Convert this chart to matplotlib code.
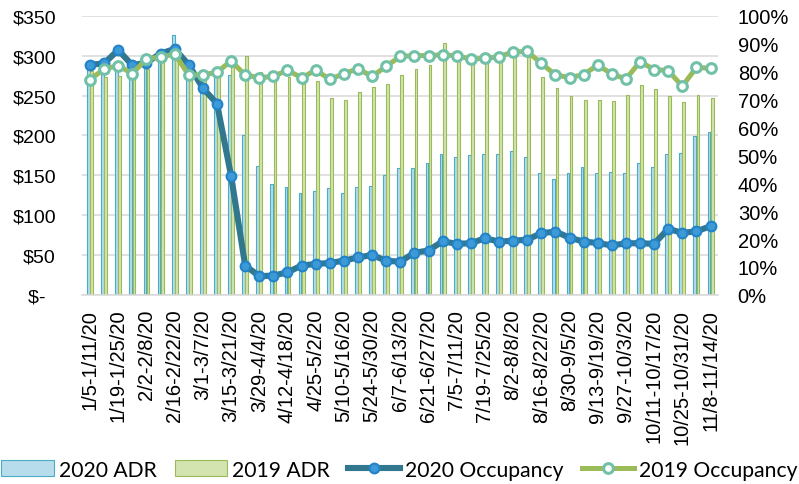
import numpy as np
import matplotlib
matplotlib.use("Agg")
import matplotlib.pyplot as plt

# weekly data, 2020 vs 2019
weeks = ["1/5-1/11/20", "1/12-1/18/20", "1/19-1/25/20", "1/26-2/1/20", "2/2-2/8/20",
         "2/9-2/15/20", "2/16-2/22/20", "2/23-2/29/20", "3/1-3/7/20", "3/8-3/14/20",
         "3/15-3/21/20", "3/22-3/28/20", "3/29-4/4/20", "4/5-4/11/20", "4/12-4/18/20",
         "4/19-4/25/20", "4/25-5/2/20", "5/3-5/9/20", "5/10-5/16/20", "5/17-5/23/20",
         "5/24-5/30/20", "5/31-6/6/20", "6/7-6/13/20", "6/14-6/20/20", "6/21-6/27/20",
         "6/28-7/4/20", "7/5-7/11/20", "7/12-7/18/20", "7/19-7/25/20", "7/26-8/1/20",
         "8/2-8/8/20", "8/9-8/15/20", "8/16-8/22/20", "8/23-8/29/20", "8/30-9/5/20",
         "9/6-9/12/20", "9/13-9/19/20", "9/20-9/26/20", "9/27-10/3/20", "10/4-10/10/20",
         "10/11-10/17/20", "10/18-10/24/20", "10/25-10/31/20", "11/1-11/7/20", "11/8-11/14/20"]

adr_2020 = [286, 287, 290, 288, 287, 305, 326, 283, 270, 275, 276, 201, 162, 139, 135,
            128, 130, 134, 128, 135, 136, 150, 159, 159, 166, 177, 173, 176, 177, 177,
            180, 173, 153, 145, 153, 161, 153, 154, 153, 165, 160, 177, 178, 199, 204]
adr_2019 = [281, 273, 275, 271, 283, 293, 295, 277, 273, 283, 286, 300, 280, 273, 274,
            264, 268, 247, 245, 255, 261, 265, 276, 283, 289, 316, 296, 292, 294, 296,
            300, 298, 273, 259, 249, 245, 245, 243, 251, 263, 258, 250, 242, 251, 247]
occ_2020 = [82.5, 83, 87.8, 82.3, 83.3, 86.5, 88.2, 82.5, 74.1, 68.6, 42.7, 10.5, 6.7, 6.9, 8.1,
            10.5, 11.1, 11.4, 12.3, 13.4, 14.3, 12.2, 11.9, 15.1, 15.9, 19.2, 18.3, 18.5, 20.3, 19.1,
            19.4, 19.8, 22.1, 22.7, 20.5, 19.1, 18.6, 17.7, 18.5, 18.5, 18.3, 23.7, 22.2, 22.8, 24.6]
occ_2019 = [77.2, 81, 82.2, 79.3, 84.7, 85.2, 86.4, 78.8, 78.9, 79.8, 83.9, 78.8, 77.9, 78.3, 80.6,
            77.8, 80.6, 77.3, 79.3, 81.1, 78.3, 82, 85.5, 85.8, 85.8, 86.1, 85.7, 84.6, 84.8, 85.4,
            87.1, 87.3, 83, 78.9, 77.9, 79, 82.4, 79.2, 77.4, 83.6, 80.8, 80.4, 74.8, 81.6, 81.2]

plt.rcParams['font.family'] = ['Liberation Sans', 'DejaVu Sans']

fig, ax = plt.subplots(figsize=(7.99, 4.85), dpi=100)
fig.subplots_adjust(left=0.103, right=0.899, top=0.965, bottom=0.39)

x = np.arange(len(weeks))
w = 0.2
b1 = ax.bar(x - 0.11, adr_2020, w, color='#b7dcec', edgecolor='#4bacc6', linewidth=0.8,
            label='2020 ADR', zorder=2)
b2 = ax.bar(x + 0.11, adr_2019, w, color='#d3e4b0', edgecolor='#9bbb59', linewidth=0.8,
            label='2019 ADR', zorder=2)

ax.set_ylim(0, 350)
ax.set_xlim(-0.55, len(weeks) - 0.45)
ax.set_yticks(range(0, 351, 50))
ax.set_yticklabels([r'\$-  '] + [r'\$%d' % v for v in range(50, 351, 50)])
ax.yaxis.grid(True, color='#d9d9d9', linewidth=1.1, zorder=0)
ax.set_axisbelow(True)
ax.set_xticks(x[::2])
ax.set_xticklabels(weeks[::2], rotation=90)
ax.tick_params(axis='y', length=0, pad=19, labelsize=14)
ax.tick_params(axis='x', length=0, pad=10, labelsize=14.5)
for s in ['top', 'right', 'left']:
    ax.spines[s].set_visible(False)
ax.spines['bottom'].set_color('#d9d9d9')
ax.spines['bottom'].set_linewidth(1.1)

ax2 = ax.twinx()
l1, = ax2.plot(x, occ_2020, color='#31788f', linewidth=4.4, marker='o', markersize=7,
               markerfacecolor='#3d9ad6', markeredgecolor='#2383c9', markeredgewidth=1.5,
               label='2020 Occupancy', zorder=3)
l2, = ax2.plot(x, occ_2019, color='#9bbb59', linewidth=3.6, marker='o', markersize=7,
               markerfacecolor='white', markeredgecolor='#70c1a8', markeredgewidth=2.2,
               label='2019 Occupancy', zorder=4)
ax2.set_ylim(0, 100)
ax2.set_yticks(range(0, 101, 10))
ax2.set_yticklabels(['%d%%' % v for v in range(0, 101, 10)])
ax2.tick_params(axis='y', length=0, pad=14, labelsize=14.5)
for s in ['top', 'right', 'left', 'bottom']:
    ax2.spines[s].set_visible(False)

fig.legend([b1, b2, l1, l2], ['2020 ADR', '2019 ADR', '2020 Occupancy', '2019 Occupancy'],
           loc='lower center', bbox_to_anchor=(0.5, -0.03), ncol=4, frameon=False,
           prop={'family': 'Lato', 'size': 15.2}, handlelength=2.47, handleheight=0.8,
           columnspacing=0.85, handletextpad=0.25, numpoints=1)

plt.savefig("out.png", dpi=100)
